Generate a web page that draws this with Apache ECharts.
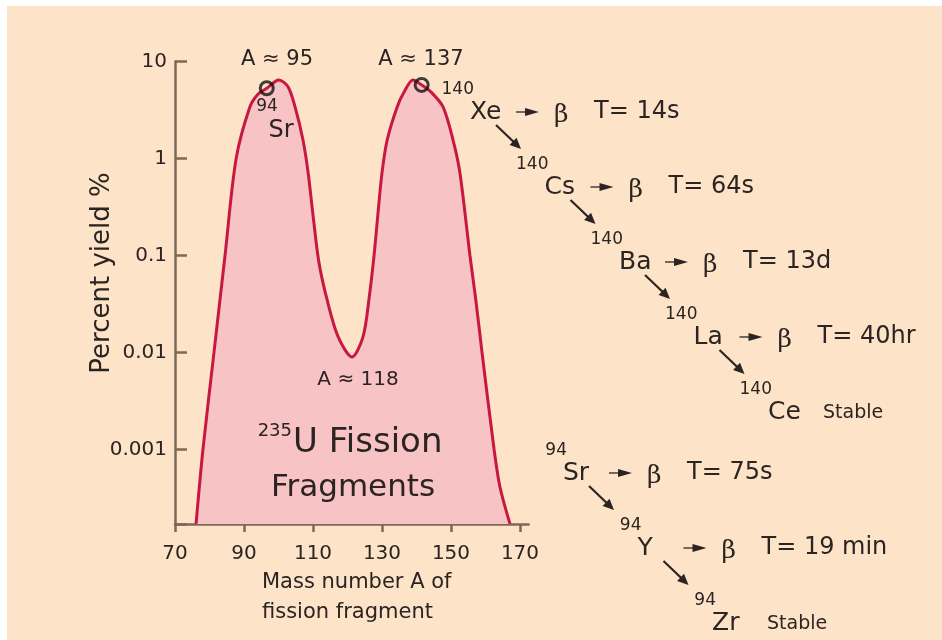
<!DOCTYPE html>
<html>
<head>
<meta charset="utf-8">
<script src="https://cdn.jsdelivr.net/npm/echarts@6/dist/echarts.min.js"></script>
<style>
  html, body { margin: 0; padding: 0; background: #ffffff; }
  #chart { width: 942px; height: 640px; }
</style>
</head>
<body>
<div id="chart"></div>
<script>
// Yield of U-235 fission fragments against mass number (log scale)
const massNumber = [76.1, 78.1, 81.3, 84.5, 87.7, 91.7, 94.1, 96.6, 100.1, 102.8, 104.8,
  107.1, 108.6, 110.0, 111.7, 114.1, 117.3, 121.3, 124.5, 126.2, 127.7, 128.8, 130.0,
  131.5, 134.4, 136.4, 139.0, 141.5, 144.2, 147.7, 150.6, 152.6, 155.5, 157.2, 159.0,
  162.5, 164.2, 167.1];
const yieldPercent = [0.000171, 0.001, 0.01, 0.1, 0.99, 3.4, 4.62, 5.3, 6.44, 5.46, 3.4,
  1.55, 0.71, 0.262, 0.0857, 0.0348, 0.0145, 0.009, 0.0145, 0.0348, 0.1, 0.262, 0.71,
  1.55, 3.4, 4.85, 6.44, 5.73, 4.85, 3.4, 1.55, 0.71, 0.1, 0.0348, 0.01,
  0.001, 0.00041, 0.000171];

// Circled fragments on the light and heavy humps
const markedMass = [96.6, 141.5];
const markedYield = [5.3, 5.73];

// Axis ticks
const xTicks = [70, 90, 110, 130, 150, 170];
const yTickLabels = ['0.001', '0.01', '0.1', '1', '10'];

// Beta-decay chains of the two fragments
const chain140 = [
  { mass: '140', sym: 'Xe', half: 'T= 14s' },
  { mass: '140', sym: 'Cs', half: 'T= 64s' },
  { mass: '140', sym: 'Ba', half: 'T= 13d' },
  { mass: '140', sym: 'La', half: 'T= 40hr' },
  { mass: '140', sym: 'Ce', half: null }
];
const chain94 = [
  { mass: '94', sym: 'Sr', half: 'T= 75s' },
  { mass: '94', sym: 'Y', half: 'T= 19 min' },
  { mass: '94', sym: 'Zr', half: null }
];

const FONT = '"DejaVu Sans", sans-serif';
const INK = '#2b2422';
const AXIS = '#7b6a56';
const CURVE = '#c9183f';
const FILL = '#f7c3c5';
const PAPER = '#fde3c8';

function txt(text, x, y, size, align, extra) {
  return Object.assign({
    type: 'text', silent: true, z: 20,
    style: {
      text: text, x: x, y: y, fill: INK,
      font: size + 'px ' + FONT,
      align: align || 'center', verticalAlign: 'middle'
    }
  }, extra || {});
}

function arrow(x1, y1, x2, y2, head, halfW, lw) {
  const dx = x2 - x1, dy = y2 - y1;
  const len = Math.sqrt(dx * dx + dy * dy);
  const ux = dx / len, uy = dy / len;
  const bx = x2 - ux * head, by = y2 - uy * head;
  return [
    { type: 'line', silent: true, z: 20,
      shape: { x1: x1, y1: y1, x2: bx + ux, y2: by + uy },
      style: { stroke: INK, lineWidth: lw } },
    { type: 'polygon', silent: true, z: 20,
      shape: { points: [[x2, y2], [bx - uy * halfW, by + ux * halfW], [bx + uy * halfW, by - ux * halfW]] },
      style: { fill: INK } }
  ];
}

// Lays a decay chain out as a descending staircase
function chainGraphics(x0, y0, entries) {
  const out = [];
  const stepX = 74.5, stepY = 75;
  entries.forEach(function (e, i) {
    const sx = x0 + i * stepX, sy = y0 + i * stepY;
    out.push(txt(e.mass, sx + 4, sy - 22, 17, 'right'));
    out.push(txt(e.sym, sx, sy, 25, 'left'));
    if (e.half) {
      out.push.apply(out, arrow(sx + 46, sy, sx + 69, sy, 14, 4, 1.3));
      out.push({
        type: 'text', silent: true, z: 20,
        style: { text: 'β', x: sx + 84, y: sy + 3, fill: INK,
          font: '25px "DejaVu Serif", serif', align: 'left', verticalAlign: 'middle' }
      });
      out.push(txt(e.half, sx + 124, sy, 24, 'left'));
    } else {
      out.push(txt('Stable', sx + 55, sy + 1, 19, 'left'));
    }
    if (i < entries.length - 1) {
      out.push.apply(out, arrow(sx + 26, sy + 13, sx + 51, sy + 37, 11, 5, 2.2));
    }
  });
  return out;
}

const graphics = [
  { type: 'rect', silent: true, z: -10,
    shape: { x: 7, y: 6, width: 935, height: 634 }, style: { fill: PAPER } },
  txt('A ≈ 95', 277, 60, 21),
  txt('A ≈ 137', 421, 60, 21),
  txt('94', 267, 107, 17),
  txt('Sr', 281, 131, 24),
  txt('A ≈ 118', 358, 380, 20),
  txt('235', 292, 431, 18, 'right'),
  txt('U Fission', 293, 443, 34, 'left'),
  txt('Fragments', 353, 488, 31),
  txt('Mass number A of', 262, 583, 21, 'left'),
  txt('fission fragment', 262, 613, 21, 'left'),
  txt('Percent yield %', 0, 0, 26, 'center', { x: 102, y: 273, rotation: Math.PI / 2 })
].concat(chainGraphics(470, 112, chain140), chainGraphics(563, 473, chain94));

const chart = echarts.init(document.getElementById('chart'), null, { renderer: 'canvas' });
chart.setOption({
  backgroundColor: '#ffffff',
  animation: false,
  grid: { left: 175, top: 61.5, width: 353.6, height: 462.5, containLabel: false },
  xAxis: {
    type: 'value', min: 70, max: 172.5, interval: 20,
    axisLine: { onZero: false, lineStyle: { color: AXIS, width: 2.5 } },
    axisTick: { inside: false, length: 8, customValues: xTicks, lineStyle: { color: AXIS, width: 2.5 } },
    axisLabel: {
      customValues: xTicks, margin: 20, color: INK, fontSize: 20, fontFamily: FONT,
      formatter: function (v) { return xTicks.indexOf(v) >= 0 ? String(v) : ''; }
    },
    splitLine: { show: false }
  },
  yAxis: {
    type: 'log', logBase: 10, min: 0.0001706, max: 10,
    axisLine: { onZero: false, lineStyle: { color: AXIS, width: 2.5 } },
    axisTick: { inside: true, length: 12, lineStyle: { color: AXIS, width: 2.5 } },
    axisLabel: {
      margin: 8, color: INK, fontSize: 20, fontFamily: FONT,
      formatter: function (v) {
        const lg = Math.log10(v), e = Math.round(lg);
        if (Math.abs(lg - e) > 0.01) return '';
        return yTickLabels[e + 3] || '';
      }
    },
    splitLine: { show: false }
  },
  series: [
    {
      type: 'line', name: 'yield',
      data: massNumber.map(function (a, i) { return [a, yieldPercent[i]]; }),
      smooth: 0.3, symbol: 'none', z: 2,
      lineStyle: { color: CURVE, width: 3 },
      areaStyle: { color: FILL, opacity: 1, origin: 'start' }
    },
    {
      type: 'scatter', name: 'marked',
      data: markedMass.map(function (a, i) { return [a, markedYield[i]]; }),
      symbol: 'circle', symbolSize: 13, z: 5,
      itemStyle: { color: 'rgba(0,0,0,0)', borderColor: '#111111', borderWidth: 3 }
    }
  ],
  graphic: graphics
});
</script>
</body>
</html>
